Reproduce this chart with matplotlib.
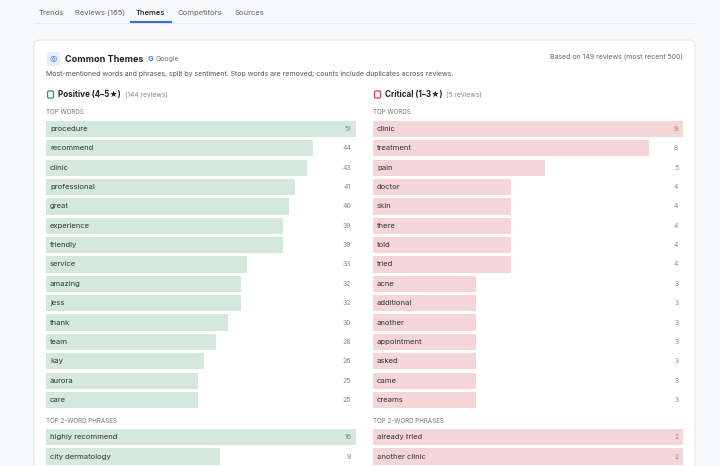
import matplotlib.pyplot as plt
from matplotlib.patches import FancyBboxPatch

plt.rcParams['font.family'] = ['Inter', 'DejaVu Sans']

# data
pos_words = ['procedure', 'recommend', 'clinic', 'professional', 'great', 'experience', 'friendly',
             'service', 'amazing', 'jess', 'thank', 'team', 'kay', 'aurora', 'care']
pos_counts = [51, 44, 43, 41, 40, 39, 39, 33, 32, 32, 30, 28, 26, 25, 25]
neg_words = ['clinic', 'treatment', 'pain', 'doctor', 'skin', 'there', 'told', 'tried', 'acne',
             'additional', 'another', 'appointment', 'asked', 'came', 'creams']
neg_counts = [9, 8, 5, 4, 4, 4, 4, 4, 3, 3, 3, 3, 3, 3, 3]
pos_phrases = ['highly recommend', 'city dermatology']
pos_phrase_counts = [16, 9]
neg_phrases = ['already tried', 'another clinic']
neg_phrase_counts = [2, 2]
tabs = ['Trends', 'Reviews (165)', 'Themes', 'Competitors', 'Sources']
tab_x = [51, 100, 150, 200, 249]

W, H = 720, 466
fig = plt.figure(figsize=(W / 100, H / 100), dpi=100)
fig.patch.set_facecolor('#f7f8fa')
bg = fig.add_axes([0, 0, 1, 1])
bg.set_xlim(0, W)
bg.set_ylim(H, 0)
bg.axis('off')
rend = fig.canvas.get_renderer()


def right_of(t, gap=3):
    # x of the right edge of a text, in pixel data coords
    bb = t.get_window_extent(rend)
    return bb.x1 + gap


# tabs
for t, x in zip(tabs, tab_x):
    bg.text(x, 13, t, ha='center', va='center', fontsize=5.5,
            color='#222' if t == 'Themes' else '#666', weight='medium' if t == 'Themes' else 'normal')
bg.plot([34, 695], [23, 23], color='#e8eaee', lw=0.8)
bg.plot([131, 171], [22, 22], color='#3b6fd8', lw=1.5)

# card
bg.add_patch(FancyBboxPatch((34, 40), 661, 460, boxstyle='round,pad=0,rounding_size=6',
                            fc='white', ec='#e4e6ea', lw=0.8))
bg.add_patch(FancyBboxPatch((47, 52), 13, 14, boxstyle='round,pad=0,rounding_size=3',
                            fc='#e8eefb', ec='none'))
bg.text(53.5, 59, '◎', ha='center', va='center', fontsize=6, color='#3b6fd8')
t = bg.text(65, 59, 'Common Themes', fontsize=6.5, weight='bold', color='#222', va='center')
x = right_of(t, 4)
t = bg.text(x, 59, 'G', fontsize=5.5, weight='bold', color='#4285f4', va='center')
bg.text(right_of(t, 2), 59, 'Google', fontsize=5, color='#777', va='center')
bg.text(683, 57, 'Based on 149 reviews (most recent 500)', fontsize=5, color='#666', ha='right', va='center')
bg.text(46, 74, 'Most-mentioned words and phrases, split by sentiment. Stop words are removed; counts include duplicates across reviews.',
        fontsize=5, color='#555', va='center')

for x0, title, sub, col in [(46, 'Positive (4–5★)', '(144 reviews)', '#2e9a5a'),
                            (373, 'Critical (1–3★)', '(5 reviews)', '#d0434b')]:
    bg.add_patch(FancyBboxPatch((x0 + 1.5, 91), 6, 7, boxstyle='round,pad=0,rounding_size=1.5',
                                fc='none', ec=col, lw=0.9))
    t = bg.text(x0 + 12, 95, title, fontsize=5.8, weight='bold', color='#222', va='center')
    bg.text(right_of(t, 4), 95, sub, fontsize=4.8, color='#888', va='center')
    bg.text(x0, 112, 'TOP WORDS', fontsize=4.5, color='#777', va='center')
    bg.text(x0, 421, 'TOP 2-WORD PHRASES', fontsize=4.5, color='#777', va='center')


def bar_block(x0, y0, n, labels, values, color):
    pitch = 19.36
    ax = fig.add_axes([x0 / W, 1 - (y0 + n * pitch) / H, 310 / W, n * pitch / H])
    ax.barh(range(len(labels)), values, height=0.84, color=color)
    ax.set_xlim(0, max(values))
    ax.set_ylim(n - 0.5, -0.5)
    ax.axis('off')
    for i, (lab, v) in enumerate(zip(labels, values)):
        ax.text(max(values) * 0.013, i, lab, fontsize=5.5, color='#333', va='center')
        ax.text(max(values) * 0.985, i, str(v), fontsize=5, color='#888', va='center', ha='right')


bar_block(46, 119.3, 15, pos_words, pos_counts, '#d4e8dd')
bar_block(373, 119.3, 15, neg_words, neg_counts, '#f4d5d8')
bar_block(46, 427.5, 2, pos_phrases, pos_phrase_counts, '#d4e8dd')
bar_block(373, 427.5, 2, neg_phrases, neg_phrase_counts, '#f4d5d8')

fig.savefig('out.png', dpi=100, facecolor=fig.get_facecolor())
